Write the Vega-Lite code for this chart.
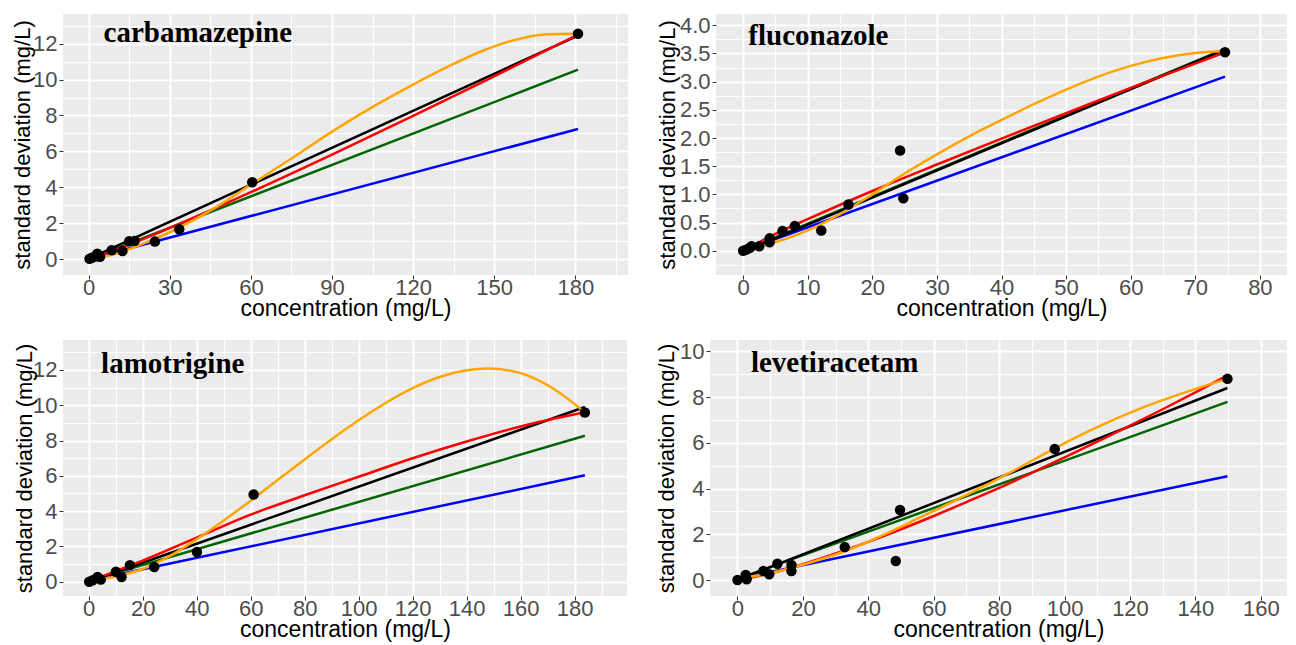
{
  "$schema": "https://vega.github.io/schema/vega-lite/v6.json",
  "padding": {"left": 11, "top": 14, "right": 0, "bottom": 0},
  "config": {
    "view": {"fill": "#EBEBEB", "stroke": null},
    "axis": {
      "domain": false, "tickColor": "#333333", "tickSize": 4, "tickWidth": 1,
      "labelColor": "#4D4D4D", "labelFontSize": 22, "labelFont": "Liberation Sans", "labelPadding": 2,
      "labelOverlap": false, "labelFlush": false,
      "titleFont": "Liberation Sans", "titleFontSize": 22, "titleFontWeight": "normal", "titleColor": "#000000",
      "gridColor": "#FFFFFF"
    },
    "axisX": {"labelPadding": -1.5, "titleFontSize": 23, "titlePadding": -1}
  },
  "datasets": {
    "points": [
      {"drug": "carbamazepine", "conc": 0.3, "sd": 0.02},
      {"drug": "carbamazepine", "conc": 1.2, "sd": 0.08},
      {"drug": "carbamazepine", "conc": 2.5, "sd": 0.15},
      {"drug": "carbamazepine", "conc": 3.2, "sd": 0.3},
      {"drug": "carbamazepine", "conc": 4.2, "sd": 0.14},
      {"drug": "carbamazepine", "conc": 8.5, "sd": 0.5},
      {"drug": "carbamazepine", "conc": 12.5, "sd": 0.45},
      {"drug": "carbamazepine", "conc": 15, "sd": 1.0},
      {"drug": "carbamazepine", "conc": 17, "sd": 1.02},
      {"drug": "carbamazepine", "conc": 24.5, "sd": 0.98},
      {"drug": "carbamazepine", "conc": 33.5, "sd": 1.67},
      {"drug": "carbamazepine", "conc": 60.5, "sd": 4.28},
      {"drug": "carbamazepine", "conc": 181, "sd": 12.55},
      {"drug": "fluconazole", "conc": 0, "sd": 0},
      {"drug": "fluconazole", "conc": 0.5, "sd": 0.02},
      {"drug": "fluconazole", "conc": 1, "sd": 0.05},
      {"drug": "fluconazole", "conc": 1.3, "sd": 0.08},
      {"drug": "fluconazole", "conc": 2.5, "sd": 0.08},
      {"drug": "fluconazole", "conc": 4.1, "sd": 0.15},
      {"drug": "fluconazole", "conc": 4.1, "sd": 0.22},
      {"drug": "fluconazole", "conc": 6.1, "sd": 0.35},
      {"drug": "fluconazole", "conc": 8, "sd": 0.44},
      {"drug": "fluconazole", "conc": 12.1, "sd": 0.36},
      {"drug": "fluconazole", "conc": 16.3, "sd": 0.82},
      {"drug": "fluconazole", "conc": 24.3, "sd": 1.78},
      {"drug": "fluconazole", "conc": 24.8, "sd": 0.93},
      {"drug": "fluconazole", "conc": 74.6, "sd": 3.52},
      {"drug": "lamotrigine", "conc": 0.2, "sd": 0},
      {"drug": "lamotrigine", "conc": 1.5, "sd": 0.08},
      {"drug": "lamotrigine", "conc": 3.3, "sd": 0.27},
      {"drug": "lamotrigine", "conc": 4.5, "sd": 0.12},
      {"drug": "lamotrigine", "conc": 10.1, "sd": 0.56},
      {"drug": "lamotrigine", "conc": 12.2, "sd": 0.26},
      {"drug": "lamotrigine", "conc": 15.3, "sd": 0.94},
      {"drug": "lamotrigine", "conc": 24.3, "sd": 0.83},
      {"drug": "lamotrigine", "conc": 40.1, "sd": 1.68},
      {"drug": "lamotrigine", "conc": 61.1, "sd": 4.94},
      {"drug": "lamotrigine", "conc": 183.8, "sd": 9.59},
      {"drug": "levetiracetam", "conc": 0, "sd": 0},
      {"drug": "levetiracetam", "conc": 2.5, "sd": 0.22},
      {"drug": "levetiracetam", "conc": 2.8, "sd": 0.03},
      {"drug": "levetiracetam", "conc": 7.9, "sd": 0.39},
      {"drug": "levetiracetam", "conc": 9.7, "sd": 0.25},
      {"drug": "levetiracetam", "conc": 12.2, "sd": 0.71},
      {"drug": "levetiracetam", "conc": 16.5, "sd": 0.39},
      {"drug": "levetiracetam", "conc": 16.5, "sd": 0.66},
      {"drug": "levetiracetam", "conc": 32.8, "sd": 1.44},
      {"drug": "levetiracetam", "conc": 48.4, "sd": 0.83},
      {"drug": "levetiracetam", "conc": 49.7, "sd": 3.06},
      {"drug": "levetiracetam", "conc": 97, "sd": 5.73},
      {"drug": "levetiracetam", "conc": 149.8, "sd": 8.8}
    ],
    "lines": [
      {"drug": "carbamazepine", "model": "A", "conc": 0, "sd": 0},
      {"drug": "carbamazepine", "model": "A", "conc": 181, "sd": 7.25},
      {"drug": "carbamazepine", "model": "B", "conc": 0, "sd": 0},
      {"drug": "carbamazepine", "model": "B", "conc": 181, "sd": 10.55},
      {"drug": "carbamazepine", "model": "C", "conc": 0, "sd": 0.02},
      {"drug": "carbamazepine", "model": "C", "conc": 181, "sd": 12.45},
      {"drug": "carbamazepine", "model": "D", "conc": 0, "sd": 0},
      {"drug": "carbamazepine", "model": "D", "conc": 10, "sd": 0.52},
      {"drug": "carbamazepine", "model": "D", "conc": 30, "sd": 1.74},
      {"drug": "carbamazepine", "model": "D", "conc": 60, "sd": 3.73},
      {"drug": "carbamazepine", "model": "D", "conc": 90, "sd": 5.82},
      {"drug": "carbamazepine", "model": "D", "conc": 120, "sd": 7.98},
      {"drug": "carbamazepine", "model": "D", "conc": 150, "sd": 10.18},
      {"drug": "carbamazepine", "model": "D", "conc": 181, "sd": 12.5},
      {"drug": "carbamazepine", "model": "E", "conc": 0, "sd": 0},
      {"drug": "carbamazepine", "model": "E", "conc": 10, "sd": 0.3},
      {"drug": "carbamazepine", "model": "E", "conc": 20, "sd": 0.85},
      {"drug": "carbamazepine", "model": "E", "conc": 30, "sd": 1.5},
      {"drug": "carbamazepine", "model": "E", "conc": 45, "sd": 2.7},
      {"drug": "carbamazepine", "model": "E", "conc": 60, "sd": 4.15},
      {"drug": "carbamazepine", "model": "E", "conc": 78, "sd": 5.9},
      {"drug": "carbamazepine", "model": "E", "conc": 90, "sd": 7.1},
      {"drug": "carbamazepine", "model": "E", "conc": 103, "sd": 8.3},
      {"drug": "carbamazepine", "model": "E", "conc": 120, "sd": 9.72},
      {"drug": "carbamazepine", "model": "E", "conc": 134, "sd": 10.8},
      {"drug": "carbamazepine", "model": "E", "conc": 146, "sd": 11.62},
      {"drug": "carbamazepine", "model": "E", "conc": 158, "sd": 12.22},
      {"drug": "carbamazepine", "model": "E", "conc": 170, "sd": 12.52},
      {"drug": "carbamazepine", "model": "E", "conc": 181, "sd": 12.55},
      {"drug": "fluconazole", "model": "A", "conc": 0, "sd": 0},
      {"drug": "fluconazole", "model": "A", "conc": 74.6, "sd": 3.09},
      {"drug": "fluconazole", "model": "B", "conc": 0, "sd": 0},
      {"drug": "fluconazole", "model": "B", "conc": 74.6, "sd": 3.58},
      {"drug": "fluconazole", "model": "C", "conc": 0, "sd": -0.02},
      {"drug": "fluconazole", "model": "C", "conc": 74.6, "sd": 3.57},
      {"drug": "fluconazole", "model": "D", "conc": 0, "sd": 0},
      {"drug": "fluconazole", "model": "D", "conc": 5, "sd": 0.3},
      {"drug": "fluconazole", "model": "D", "conc": 10, "sd": 0.56},
      {"drug": "fluconazole", "model": "D", "conc": 20, "sd": 1.06},
      {"drug": "fluconazole", "model": "D", "conc": 30, "sd": 1.53},
      {"drug": "fluconazole", "model": "D", "conc": 40, "sd": 1.99},
      {"drug": "fluconazole", "model": "D", "conc": 50, "sd": 2.44},
      {"drug": "fluconazole", "model": "D", "conc": 60, "sd": 2.89},
      {"drug": "fluconazole", "model": "D", "conc": 74.6, "sd": 3.52},
      {"drug": "fluconazole", "model": "E", "conc": 0, "sd": 0},
      {"drug": "fluconazole", "model": "E", "conc": 5, "sd": 0.15},
      {"drug": "fluconazole", "model": "E", "conc": 10, "sd": 0.36},
      {"drug": "fluconazole", "model": "E", "conc": 15, "sd": 0.65},
      {"drug": "fluconazole", "model": "E", "conc": 20, "sd": 1.0},
      {"drug": "fluconazole", "model": "E", "conc": 25, "sd": 1.37},
      {"drug": "fluconazole", "model": "E", "conc": 30, "sd": 1.71},
      {"drug": "fluconazole", "model": "E", "conc": 35, "sd": 2.03},
      {"drug": "fluconazole", "model": "E", "conc": 40, "sd": 2.32},
      {"drug": "fluconazole", "model": "E", "conc": 45, "sd": 2.6},
      {"drug": "fluconazole", "model": "E", "conc": 50, "sd": 2.86},
      {"drug": "fluconazole", "model": "E", "conc": 55, "sd": 3.09},
      {"drug": "fluconazole", "model": "E", "conc": 60, "sd": 3.28},
      {"drug": "fluconazole", "model": "E", "conc": 65, "sd": 3.42},
      {"drug": "fluconazole", "model": "E", "conc": 70, "sd": 3.51},
      {"drug": "fluconazole", "model": "E", "conc": 74.6, "sd": 3.54},
      {"drug": "lamotrigine", "model": "A", "conc": 0, "sd": 0.05},
      {"drug": "lamotrigine", "model": "A", "conc": 183.8, "sd": 6.03},
      {"drug": "lamotrigine", "model": "B", "conc": 0, "sd": 0.05},
      {"drug": "lamotrigine", "model": "B", "conc": 183.8, "sd": 8.27},
      {"drug": "lamotrigine", "model": "C", "conc": 0, "sd": 0},
      {"drug": "lamotrigine", "model": "C", "conc": 183.8, "sd": 9.9},
      {"drug": "lamotrigine", "model": "D", "conc": 0, "sd": 0},
      {"drug": "lamotrigine", "model": "D", "conc": 10, "sd": 0.6},
      {"drug": "lamotrigine", "model": "D", "conc": 20, "sd": 1.2},
      {"drug": "lamotrigine", "model": "D", "conc": 40, "sd": 2.5},
      {"drug": "lamotrigine", "model": "D", "conc": 60, "sd": 3.8},
      {"drug": "lamotrigine", "model": "D", "conc": 80, "sd": 4.9},
      {"drug": "lamotrigine", "model": "D", "conc": 100, "sd": 5.95},
      {"drug": "lamotrigine", "model": "D", "conc": 120, "sd": 7.0},
      {"drug": "lamotrigine", "model": "D", "conc": 140, "sd": 7.95},
      {"drug": "lamotrigine", "model": "D", "conc": 160, "sd": 8.8},
      {"drug": "lamotrigine", "model": "D", "conc": 183.8, "sd": 9.6},
      {"drug": "lamotrigine", "model": "E", "conc": 0, "sd": 0.05},
      {"drug": "lamotrigine", "model": "E", "conc": 10, "sd": 0.3},
      {"drug": "lamotrigine", "model": "E", "conc": 20, "sd": 0.72},
      {"drug": "lamotrigine", "model": "E", "conc": 30, "sd": 1.45},
      {"drug": "lamotrigine", "model": "E", "conc": 40, "sd": 2.4},
      {"drug": "lamotrigine", "model": "E", "conc": 50, "sd": 3.47},
      {"drug": "lamotrigine", "model": "E", "conc": 61, "sd": 4.7},
      {"drug": "lamotrigine", "model": "E", "conc": 70, "sd": 5.76},
      {"drug": "lamotrigine", "model": "E", "conc": 80, "sd": 6.93},
      {"drug": "lamotrigine", "model": "E", "conc": 90, "sd": 8.08},
      {"drug": "lamotrigine", "model": "E", "conc": 100, "sd": 9.15},
      {"drug": "lamotrigine", "model": "E", "conc": 110, "sd": 10.13},
      {"drug": "lamotrigine", "model": "E", "conc": 120, "sd": 10.97},
      {"drug": "lamotrigine", "model": "E", "conc": 130, "sd": 11.6},
      {"drug": "lamotrigine", "model": "E", "conc": 140, "sd": 11.98},
      {"drug": "lamotrigine", "model": "E", "conc": 148, "sd": 12.08},
      {"drug": "lamotrigine", "model": "E", "conc": 160, "sd": 11.82},
      {"drug": "lamotrigine", "model": "E", "conc": 171, "sd": 11.05},
      {"drug": "lamotrigine", "model": "E", "conc": 183.8, "sd": 9.6},
      {"drug": "levetiracetam", "model": "A", "conc": 0, "sd": 0.05},
      {"drug": "levetiracetam", "model": "A", "conc": 149.8, "sd": 4.54},
      {"drug": "levetiracetam", "model": "B", "conc": 0, "sd": 0.05},
      {"drug": "levetiracetam", "model": "B", "conc": 149.8, "sd": 7.79},
      {"drug": "levetiracetam", "model": "C", "conc": 0, "sd": 0},
      {"drug": "levetiracetam", "model": "C", "conc": 149.8, "sd": 8.4},
      {"drug": "levetiracetam", "model": "D", "conc": 0, "sd": 0},
      {"drug": "levetiracetam", "model": "D", "conc": 10, "sd": 0.29},
      {"drug": "levetiracetam", "model": "D", "conc": 20, "sd": 0.69},
      {"drug": "levetiracetam", "model": "D", "conc": 30, "sd": 1.16},
      {"drug": "levetiracetam", "model": "D", "conc": 40, "sd": 1.67},
      {"drug": "levetiracetam", "model": "D", "conc": 50, "sd": 2.22},
      {"drug": "levetiracetam", "model": "D", "conc": 60, "sd": 2.8},
      {"drug": "levetiracetam", "model": "D", "conc": 70, "sd": 3.41},
      {"drug": "levetiracetam", "model": "D", "conc": 80, "sd": 4.03},
      {"drug": "levetiracetam", "model": "D", "conc": 90, "sd": 4.69},
      {"drug": "levetiracetam", "model": "D", "conc": 100, "sd": 5.36},
      {"drug": "levetiracetam", "model": "D", "conc": 110, "sd": 6.05},
      {"drug": "levetiracetam", "model": "D", "conc": 120, "sd": 6.75},
      {"drug": "levetiracetam", "model": "D", "conc": 130, "sd": 7.47},
      {"drug": "levetiracetam", "model": "D", "conc": 140, "sd": 8.21},
      {"drug": "levetiracetam", "model": "D", "conc": 149.8, "sd": 8.95},
      {"drug": "levetiracetam", "model": "E", "conc": 0, "sd": 0.05},
      {"drug": "levetiracetam", "model": "E", "conc": 10, "sd": 0.3},
      {"drug": "levetiracetam", "model": "E", "conc": 20, "sd": 0.67},
      {"drug": "levetiracetam", "model": "E", "conc": 33, "sd": 1.27},
      {"drug": "levetiracetam", "model": "E", "conc": 45, "sd": 2.0},
      {"drug": "levetiracetam", "model": "E", "conc": 55, "sd": 2.68},
      {"drug": "levetiracetam", "model": "E", "conc": 68.3, "sd": 3.6},
      {"drug": "levetiracetam", "model": "E", "conc": 83.6, "sd": 4.72},
      {"drug": "levetiracetam", "model": "E", "conc": 97, "sd": 5.76},
      {"drug": "levetiracetam", "model": "E", "conc": 109, "sd": 6.62},
      {"drug": "levetiracetam", "model": "E", "conc": 124, "sd": 7.55},
      {"drug": "levetiracetam", "model": "E", "conc": 139.6, "sd": 8.34},
      {"drug": "levetiracetam", "model": "E", "conc": 149.8, "sd": 8.8}
    ]
  },
  "spacing": 19,
  "vconcat": [
    {
      "spacing": 28,
      "hconcat": [
        {
          "width": 565, "height": 261,
          "encoding": {
            "x": {"field": "conc", "type": "quantitative", "scale": {"domain": [-9.5, 199.5], "nice": false, "zero": false},
              "axis": {"title": "concentration (mg/L)", "values": [0,15,30,45,60,75,90,105,120,135,150,165,180,195],
                "labelExpr": "datum.value % 30 === 0 ? datum.label : ''",
                "gridWidth": {"condition": {"test": "datum.value % 30 === 0", "value": 2}, "value": 1},
                "tickOpacity": {"condition": {"test": "datum.value % 30 === 0", "value": 1}, "value": 0}}},
            "y": {"field": "sd", "type": "quantitative", "scale": {"domain": [-0.88, 13.65], "nice": false, "zero": false},
              "axis": {"title": "standard deviation (mg/L)", "titlePadding": -2, "values": [0,1,2,3,4,5,6,7,8,9,10,11,12,13],
                "labelExpr": "datum.value % 2 === 0 ? datum.label : ''",
                "gridWidth": {"condition": {"test": "datum.value % 2 === 0", "value": 2}, "value": 1},
                "tickOpacity": {"condition": {"test": "datum.value % 2 === 0", "value": 1}, "value": 0}}}
          },
          "layer": [
            {"data": {"name": "lines"}, "transform": [{"filter": "datum.drug === 'carbamazepine'"}],
              "mark": {"type": "line", "strokeWidth": 2.5, "interpolate": "monotone"},
              "encoding": {"color": {"field": "model", "type": "nominal", "legend": null,
                "scale": {"domain": ["A","B","C","D","E"], "range": ["#0000FF","#006400","#000000","#FF0000","#FFA500"]}}}},
            {"data": {"name": "points"}, "transform": [{"filter": "datum.drug === 'carbamazepine'"}],
              "mark": {"type": "circle", "size": 110, "color": "#000000", "opacity": 1}},
            {"data": {"values": [{"name": "carbamazepine", "px": 5.5, "py": 12.08}]},
              "mark": {"type": "text", "font": "Liberation Serif", "fontWeight": "bold", "fontSize": 29, "align": "left", "baseline": "alphabetic", "color": "#000000"},
              "encoding": {"x": {"field": "px", "type": "quantitative"}, "y": {"field": "py", "type": "quantitative"}, "text": {"field": "name"}}}
          ]
        },
        {
          "width": 571, "height": 261,
          "encoding": {
            "x": {"field": "conc", "type": "quantitative", "scale": {"domain": [-4.2, 84.2], "nice": false, "zero": false},
              "axis": {"title": "concentration (mg/L)", "values": [0,5,10,15,20,25,30,35,40,45,50,55,60,65,70,75,80],
                "labelExpr": "datum.value % 10 === 0 ? datum.label : ''",
                "gridWidth": {"condition": {"test": "datum.value % 10 === 0", "value": 2}, "value": 1},
                "tickOpacity": {"condition": {"test": "datum.value % 10 === 0", "value": 1}, "value": 0}}},
            "y": {"field": "sd", "type": "quantitative", "scale": {"domain": [-0.43, 4.2], "nice": false, "zero": false},
              "axis": {"title": "standard deviation (mg/L)", "titlePadding": 0, "format": ".1f",
                "values": [-0.25,0,0.25,0.5,0.75,1,1.25,1.5,1.75,2,2.25,2.5,2.75,3,3.25,3.5,3.75,4],
                "labelExpr": "abs(datum.value % 0.5) < 0.001 ? datum.label : ''",
                "gridWidth": {"condition": {"test": "abs(datum.value % 0.5) < 0.001", "value": 2}, "value": 1},
                "tickOpacity": {"condition": {"test": "abs(datum.value % 0.5) < 0.001", "value": 1}, "value": 0}}}
          },
          "layer": [
            {"data": {"name": "lines"}, "transform": [{"filter": "datum.drug === 'fluconazole'"}],
              "mark": {"type": "line", "strokeWidth": 2.5, "interpolate": "monotone"},
              "encoding": {"color": {"field": "model", "type": "nominal", "legend": null,
                "scale": {"domain": ["A","B","C","D","E"], "range": ["#0000FF","#006400","#000000","#FF0000","#FFA500"]}}}},
            {"data": {"name": "points"}, "transform": [{"filter": "datum.drug === 'fluconazole'"}],
              "mark": {"type": "circle", "size": 110, "color": "#000000", "opacity": 1}},
            {"data": {"values": [{"name": "fluconazole", "px": 0.8, "py": 3.65}]},
              "mark": {"type": "text", "font": "Liberation Serif", "fontWeight": "bold", "fontSize": 29, "align": "left", "baseline": "alphabetic", "color": "#000000"},
              "encoding": {"x": {"field": "px", "type": "quantitative"}, "y": {"field": "py", "type": "quantitative"}, "text": {"field": "name"}}}
          ]
        }
      ]
    },
    {
      "spacing": 28,
      "hconcat": [
        {
          "width": 564, "height": 256,
          "encoding": {
            "x": {"field": "conc", "type": "quantitative", "scale": {"domain": [-9.5, 199.4], "nice": false, "zero": false},
              "axis": {"title": "concentration (mg/L)", "values": [0,10,20,30,40,50,60,70,80,90,100,110,120,130,140,150,160,170,180,190],
                "labelExpr": "datum.value % 20 === 0 ? datum.label : ''",
                "gridWidth": {"condition": {"test": "datum.value % 20 === 0", "value": 2}, "value": 1},
                "tickOpacity": {"condition": {"test": "datum.value % 20 === 0", "value": 1}, "value": 0}}},
            "y": {"field": "sd", "type": "quantitative", "scale": {"domain": [-0.81, 13.7], "nice": false, "zero": false},
              "axis": {"title": "standard deviation (mg/L)", "titlePadding": -4, "values": [0,1,2,3,4,5,6,7,8,9,10,11,12,13],
                "labelExpr": "datum.value % 2 === 0 ? datum.label : ''",
                "gridWidth": {"condition": {"test": "datum.value % 2 === 0", "value": 2}, "value": 1},
                "tickOpacity": {"condition": {"test": "datum.value % 2 === 0", "value": 1}, "value": 0}}}
          },
          "layer": [
            {"data": {"name": "lines"}, "transform": [{"filter": "datum.drug === 'lamotrigine'"}],
              "mark": {"type": "line", "strokeWidth": 2.5, "interpolate": "monotone"},
              "encoding": {"color": {"field": "model", "type": "nominal", "legend": null,
                "scale": {"domain": ["A","B","C","D","E"], "range": ["#0000FF","#006400","#000000","#FF0000","#FFA500"]}}}},
            {"data": {"name": "points"}, "transform": [{"filter": "datum.drug === 'lamotrigine'"}],
              "mark": {"type": "circle", "size": 110, "color": "#000000", "opacity": 1}},
            {"data": {"values": [{"name": "lamotrigine", "px": 4.6, "py": 11.85}]},
              "mark": {"type": "text", "font": "Liberation Serif", "fontWeight": "bold", "fontSize": 29, "align": "left", "baseline": "alphabetic", "color": "#000000"},
              "encoding": {"x": {"field": "px", "type": "quantitative"}, "y": {"field": "py", "type": "quantitative"}, "text": {"field": "name"}}}
          ]
        },
        {
          "width": 577, "height": 256,
          "encoding": {
            "x": {"field": "conc", "type": "quantitative", "scale": {"domain": [-8.4, 168], "nice": false, "zero": false},
              "axis": {"title": "concentration (mg/L)", "values": [0,10,20,30,40,50,60,70,80,90,100,110,120,130,140,150,160],
                "labelExpr": "datum.value % 20 === 0 ? datum.label : ''",
                "gridWidth": {"condition": {"test": "datum.value % 20 === 0", "value": 2}, "value": 1},
                "tickOpacity": {"condition": {"test": "datum.value % 20 === 0", "value": 1}, "value": 0}}},
            "y": {"field": "sd", "type": "quantitative", "scale": {"domain": [-0.7, 10.5], "nice": false, "zero": false},
              "axis": {"title": "standard deviation (mg/L)", "titlePadding": 1, "values": [0,1,2,3,4,5,6,7,8,9,10],
                "labelExpr": "datum.value % 2 === 0 ? datum.label : ''",
                "gridWidth": {"condition": {"test": "datum.value % 2 === 0", "value": 2}, "value": 1},
                "tickOpacity": {"condition": {"test": "datum.value % 2 === 0", "value": 1}, "value": 0}}}
          },
          "layer": [
            {"data": {"name": "lines"}, "transform": [{"filter": "datum.drug === 'levetiracetam'"}],
              "mark": {"type": "line", "strokeWidth": 2.5, "interpolate": "monotone"},
              "encoding": {"color": {"field": "model", "type": "nominal", "legend": null,
                "scale": {"domain": ["A","B","C","D","E"], "range": ["#0000FF","#006400","#000000","#FF0000","#FFA500"]}}}},
            {"data": {"name": "points"}, "transform": [{"filter": "datum.drug === 'levetiracetam'"}],
              "mark": {"type": "circle", "size": 110, "color": "#000000", "opacity": 1}},
            {"data": {"values": [{"name": "levetiracetam", "px": 4.1, "py": 9.08}]},
              "mark": {"type": "text", "font": "Liberation Serif", "fontWeight": "bold", "fontSize": 29, "align": "left", "baseline": "alphabetic", "color": "#000000"},
              "encoding": {"x": {"field": "px", "type": "quantitative"}, "y": {"field": "py", "type": "quantitative"}, "text": {"field": "name"}}}
          ]
        }
      ]
    }
  ]
}
